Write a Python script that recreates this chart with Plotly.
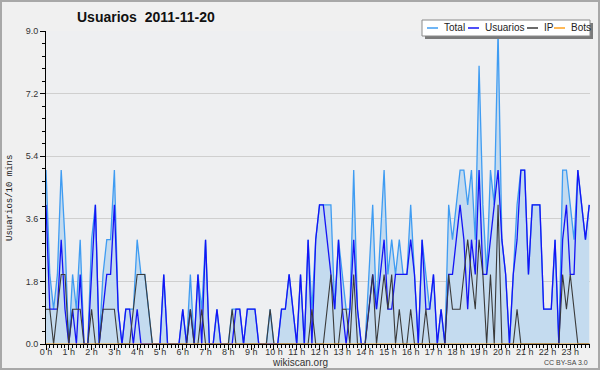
import plotly.graph_objects as go

# 10-minute slots over the day (0 .. 143)
slots = list(range(144))
hour_ticks = list(range(0, 144, 6))
hour_labels = [f"{h} h" for h in range(24)]

usuarios = [4,1,1,1,3,1,0,1,0,2,0,0,2,4,0,1,2,2,4,1,0,1,1,0,
            1,0,0,0,0,0,0,2,0,0,0,0,1,0,1,0,2,0,3,0,0,1,0,0,
            0,0,1,1,0,1,1,1,0,0,0,0,0,0,1,1,2,1,0,2,0,3,0,3,
            4,4,3,2,1,3,1,0,1,3,1,0,0,1,2,1,2,3,1,1,2,2,2,2,
            3,2,0,3,1,1,2,0,1,0,2,2,3,4,3,1,3,2,5,2,2,3,4,5,
            3,2,0,2,3,5,5,2,4,4,4,1,1,1,3,0,3,4,2,2,5,4,3,4]

ip = [1,1,0,1,2,2,0,1,1,1,0,0,1,0,0,1,1,1,1,0,0,0,0,1,
      2,2,2,1,0,0,0,0,0,0,0,0,0,0,1,0,0,1,0,0,0,0,0,0,
      0,1,0,0,0,0,0,0,0,0,0,1,0,0,0,0,0,0,0,0,0,0,1,0,
      0,0,1,2,0,0,1,1,0,2,0,0,0,1,2,0,1,2,1,2,0,1,0,0,
      1,0,0,0,1,0,0,0,0,0,2,1,1,1,2,3,2,1,3,2,0,2,0,4,
      0,0,0,0,1,0,0,0,0,0,0,0,0,0,0,0,2,1,2,1,0,0,0,0]

total = [5,2,1,2,5,3,0,2,1,3,0,0,3,4,0,2,3,3,5,1,0,1,1,1,
         3,2,2,1,0,0,0,2,0,0,0,0,1,0,2,0,2,1,3,0,0,1,0,0,
         0,1,1,1,0,1,1,1,0,0,0,1,0,0,1,1,2,1,0,2,0,3,1,3,
         4,4,4,4,1,3,2,1,1,5,1,0,0,2,4,1,3,5,2,3,2,3,2,2,
         4,2,0,3,2,1,2,0,1,0,4,3,4,5,5,4,5,3,8,4,2,5,4,9,
         3,2,0,2,4,5,5,2,4,4,4,1,1,1,3,0,5,5,4,3,5,4,3,4]

bots = [0] * 144

y_ticks = [0.0, 1.8, 3.6, 5.4, 7.2, 9.0]

C_TOTAL = "#3f9cf2"
C_FILL = "#c4dbef"
C_USER = "#1414f5"
C_IP = "#3a3a3a"
C_BOTS = "#ffa21f"

fig = go.Figure()
fig.add_trace(go.Scatter(x=slots, y=total, name="Total", mode="lines",
                         line=dict(color=C_TOTAL, width=1.3),
                         fill="tozeroy", fillcolor=C_FILL))
fig.add_trace(go.Scatter(x=slots, y=usuarios, name="Usuarios", mode="lines",
                         line=dict(color=C_USER, width=1.3)))
fig.add_trace(go.Scatter(x=slots, y=ip, name="IP", mode="lines",
                         line=dict(color=C_IP, width=1.1)))
fig.add_trace(go.Scatter(x=slots, y=bots, name="Bots", mode="lines",
                         line=dict(color=C_BOTS, width=1)))

W, H = 600, 370
L, R, T, B = 46, 10, 31, 26
pw, ph = W - L - R, H - T - B


def px(x):
    return (x - L) / pw


def py(y):
    return (H - B - y) / ph


shapes = []
annotations = []

# outer border
shapes.append(dict(type="rect", xref="paper", yref="paper",
                   x0=px(1), x1=px(599), y0=py(369), y1=py(1),
                   line=dict(color="#a8a8a8", width=2), fillcolor="rgba(0,0,0,0)",
                   layer="above"))

# legend box (shadow + box)
shapes.append(dict(type="rect", xref="paper", yref="paper",
                   x0=px(425), x1=px(593), y0=py(39), y1=py(23),
                   line=dict(width=0), fillcolor="#7a7a7a", layer="above"))
shapes.append(dict(type="rect", xref="paper", yref="paper",
                   x0=px(422), x1=px(590), y0=py(36), y1=py(20),
                   line=dict(color="#8a8a8a", width=1), fillcolor="#ffffff", layer="above"))

legend_items = [("Total", C_TOTAL, 427, 442), ("Usuarios", C_USER, 468, 483),
                ("IP", C_IP, 527, 542), ("Bots", C_BOTS, 554, 569)]
for name, col, lx, tx in legend_items:
    shapes.append(dict(type="line", xref="paper", yref="paper",
                       x0=px(lx), x1=px(lx + 11), y0=py(28), y1=py(28),
                       line=dict(color=col, width=1.5), layer="above"))
    annotations.append(dict(text=name, xref="paper", yref="paper",
                            x=px(tx), y=py(28), xanchor="left", yanchor="middle",
                            showarrow=False,
                            font=dict(family="Liberation Sans", size=10, color="#222222")))

# title
annotations.append(dict(text="<b>Usuarios  2011-11-20</b>", xref="paper", yref="paper",
                        x=px(75), y=py(17), xanchor="left", yanchor="middle",
                        showarrow=False,
                        font=dict(family="Liberation Sans", size=14, color="#111111")))
# y-axis title
annotations.append(dict(text="Usuarios/10 mins", xref="paper", yref="paper",
                        x=px(10), y=py(198), xanchor="center", yanchor="middle",
                        textangle=-90, showarrow=False,
                        font=dict(family="Liberation Mono", size=9, color="#222222")))
# footer
annotations.append(dict(text="wikiscan.org", xref="paper", yref="paper",
                        x=px(300), y=py(362), xanchor="center", yanchor="middle",
                        showarrow=False,
                        font=dict(family="Liberation Sans", size=10, color="#333333")))
annotations.append(dict(text="CC BY-SA 3.0", xref="paper", yref="paper",
                        x=px(590), y=py(362), xanchor="right", yanchor="middle",
                        showarrow=False,
                        font=dict(family="Liberation Sans", size=7, color="#444444")))

fig.update_layout(
    width=W, height=H,
    margin=dict(l=L, r=R, t=T, b=B, pad=0),
    paper_bgcolor="#f0f0f0",
    plot_bgcolor="#eeeff1",
    showlegend=False,
    shapes=shapes,
    annotations=annotations,
    font=dict(family="Liberation Sans", size=9, color="#333333"),
)

fig.update_xaxes(
    range=[0, 143.2],
    tickmode="array", tickvals=hour_ticks, ticktext=hour_labels,
    ticks="outside", ticklen=5, tickcolor="#000000", tickwidth=1,
    minor=dict(dtick=1, tick0=0, ticks="outside", ticklen=3, tickcolor="#000000", tickwidth=1),
    showgrid=False, zeroline=False,
    showline=True, linecolor="#000000", linewidth=1,
    tickfont=dict(family="Liberation Sans", size=9, color="#333333"),
    ticklabelstandoff=-6,
    fixedrange=True,
)

fig.update_yaxes(
    range=[0, 9.0],
    tickmode="array", tickvals=y_ticks, ticktext=[f"{v:.1f}" for v in y_ticks],
    ticks="outside", ticklen=5, tickcolor="#000000", tickwidth=1,
    minor=dict(dtick=0.36, tick0=0, ticks="outside", ticklen=3, tickcolor="#000000",
               tickwidth=1, showgrid=False),
    showgrid=True, gridcolor="#cfcfcf", gridwidth=1,
    zeroline=False,
    showline=True, linecolor="#000000", linewidth=1,
    tickfont=dict(family="Liberation Sans", size=9, color="#333333"),
    fixedrange=True,
)

fig.write_html("out.html",
               config={"displayModeBar": False, "staticPlot": True},
               post_script="document.body.style.margin='0';document.body.style.overflow='hidden';")
